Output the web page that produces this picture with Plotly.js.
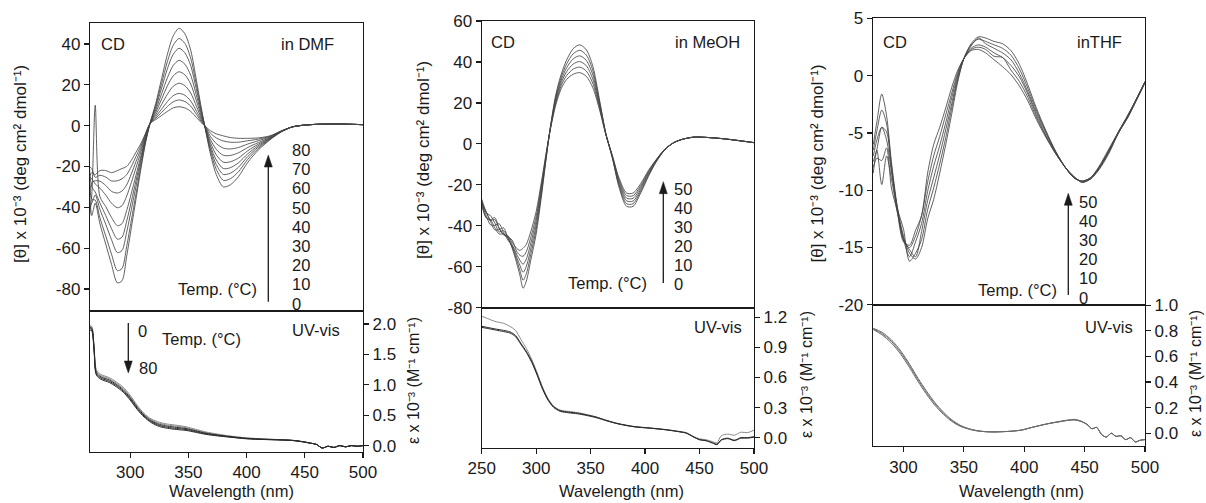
<!DOCTYPE html>
<html><head><meta charset="utf-8">
<script src="https://cdn.plot.ly/plotly-3.0.1.min.js"></script>
<style>html,body{margin:0;padding:0;background:#fff}#chart{width:1206px;height:503px}</style>
</head><body><div id="chart"></div>
<script>
// ===================== DATA =====================
// ---- DMF, CD (0..80 °C) ----
const dmfCdWavelength = [265,267,270,274,279,284,289,293,297,301,305,309,313,317,322,327,332,337,342,347,352,357,361,364,369,374,380,386,393,401,410,420,430,440,455,475,500];
const dmfCdT0  = [-30,-44,-38,-48,-58,-68,-77,-76,-64,-50,-36,-22,-9,1, 11,23,35,44,47.7,45,37,22,9,0, -14,-24,-30,-29,-25,-18,-12,-7,-3,-0.5,0.5,0.8,0.5];
const dmfCdT10 = [28,-36,-36.5,-45.1,-54,-63,-71,-70,-59.2,-46.4,-33.5,-20.6,-8.5,1, 10,20.7,31.4,39.4,42.7,40.3,33.1,19.7,8,0, -12.5,-21.4,-26.8,-26,-22.6,-16.5,-11.2,-6.7,-2.9,-0.5,0.5,0.8,0.5];
const dmfCdT20 = [-40,-38,-34,-41,-48.3,-55.9,-62.2,-61.2,-52.2,-41.1,-29.8,-18.5,-7.7,1, 9,18.4,27.9,35,37.9,35.7,29.4,17.4,7.1,0, -11.2,-19.1,-23.9,-23.3,-20.4,-15.1,-10.5,-6.5,-2.9,-0.5,0.5,0.8,0.5];
const dmfCdT30 = [-20,-30,-32.5,-37.9,-44,-50.5,-55.6,-54.6,-46.8,-37.1,-27,-16.9,-7,1, 7.7,15.6,23.5,29.5,32,30.1,24.7,14.6,5.9,0, -9.9,-16.8,-21,-20.6,-18.2,-13.8,-9.8,-6.3,-2.8,-0.5,0.5,0.8,0.5];
const dmfCdT40 = [-45,-34,10,-34.7,-39.6,-45,-49,-48,-41.6,-33.2,-24.3,-15.4,-6.5,1, 6.6,13,19.5,24.4,26.4,24.9,20.4,12,4.8,0, -8.4,-14.3,-17.9,-17.7,-15.9,-12.3,-9.1,-6,-2.8,-0.5,0.5,0.8,0.5];
const dmfCdT50 = [-25,-26,-28.6,-30.6,-34,-38,-40.2,-39.2,-34.5,-27.9,-20.6,-13.3,-5.7,1, 5.4,10.4,15.4,19.3,20.8,19.6,16,9.4,3.8,0, -6.9,-11.6,-14.5,-14.6,-13.3,-10.7,-8.3,-5.8,-2.7,-0.5,0.5,0.8,0.5];
const dmfCdT60 = [-35,-28,-27,-27.2,-29.3,-32.2,-33,-32,-29,-23.6,-17.6,-11.6,-5,1, 4.4,8.1,11.8,14.7,15.8,14.9,12.1,7.1,2.8,0, -5.3,-8.8,-11,-11.4,-10.7,-9,-7.4,-5.5,-2.6,-0.5,0.5,0.8,0.5];
const dmfCdT70 = [-20,-21,-25.3,-24.3,-25.2,-27.1,-27,-26,-24,-20,-15.1,-10.2,-4.5,1, 3.7,6.5,9.4,11.7,12.6,11.8,9.6,5.5,2.1,0, -3.7,-6,-7.5,-8.1,-8.1,-7.4,-6.6,-5.2,-2.6,-0.5,0.5,0.8,0.5];
const dmfCdT80 = [-25,-23,-24,-22,-22,-23,-22,-21,-20,-17,-13,-9,-4,1, 3,5,7,8.7,9.3,8.7,7,4,1.5,0, -2.5,-4,-5,-5.8,-6.2,-6.2,-6,-5,-2.5,-0.5,0.5,0.8,0.5];

// ---- DMF, UV-vis ----
const dmfUvWavelength = [265,267,269,271,275,282,288,294,300,306,312,318,325,332,340,348,356,365,375,385,400,415,430,440,448,455,460,465,470,475,480,485,490,495,500];
const dmfUvT0  = [1.98,1.96,1.65,1.25,1.17,1.12,1.05,0.96,0.83,0.665,0.53,0.44,0.385,0.355,0.335,0.31,0.27,0.225,0.19,0.16,0.128,0.11,0.098,0.087,0.067,0.04,0.02,-0.04,-0.01,-0.03,0.0,-0.02,0.0,-0.01,0.0];
const dmfUvT20 = [1.97,1.95,1.62,1.22,1.15,1.10,1.03,0.94,0.81,0.648,0.515,0.425,0.368,0.338,0.318,0.295,0.258,0.215,0.182,0.155,0.124,0.108,0.096,0.086,0.066,0.04,0.02,-0.04,-0.01,-0.03,0.0,-0.02,0.0,-0.01,0.0];
const dmfUvT40 = [1.95,1.93,1.60,1.20,1.13,1.08,1.01,0.92,0.79,0.63,0.50,0.41,0.35,0.32,0.30,0.28,0.245,0.205,0.175,0.15,0.12,0.105,0.095,0.085,0.065,0.04,0.02,-0.04,-0.01,-0.03,0.0,-0.02,0.0,-0.01,0.0];
const dmfUvT60 = [1.93,1.91,1.58,1.18,1.11,1.06,0.99,0.90,0.77,0.612,0.485,0.395,0.332,0.302,0.282,0.265,0.232,0.195,0.168,0.145,0.116,0.102,0.094,0.084,0.064,0.04,0.02,-0.04,-0.01,-0.03,0.0,-0.02,0.0,-0.01,0.0];
const dmfUvT80 = [1.90,1.89,1.55,1.16,1.09,1.04,0.97,0.88,0.75,0.595,0.47,0.38,0.315,0.285,0.265,0.25,0.22,0.185,0.16,0.14,0.112,0.10,0.092,0.083,0.063,0.04,0.02,-0.04,-0.01,-0.03,0.0,-0.02,0.0,-0.01,0.0];

// ---- MeOH, CD (0..50 °C) ----
const meohCdWavelength = [250,254,258,262,266,270,274,278,282,285,288,291,295,300,305,309,313,318,323,328,334,340,346,352,358,364,370,376,383,389,396,403,410,418,426,434,445,458,472,486,500];
const meohCdT0  = [-30,-36,-37,-41,-44,-44,-46,-51,-58,-64,-70.5,-67,-57,-44,-25,-8,8,24,34,41,46.5,48.4,46,38,22,5,-7,-21,-30.5,-30.5,-24,-16,-9,-3,0.5,2.2,3.3,3.1,2.5,1.6,0.6];
const meohCdT10 = [-29.4,-33,-37.8,-42,-41.8,-41,-45.8,-50.4,-56.6,-61.6,-66.6,-63.4,-54.2,-41.8,-23.6,-7.4,7.8,23,32.6,39.1,44,45.7,43.4,35.9,21,4.9,-6.8,-20.2,-29.2,-29.2,-23.1,-15.4,-8.8,-2.9,0.5,2.2,3.3,3.1,2.5,1.6,0.6];
const meohCdT20 = [-28.8,-34.8,-39.5,-39.8,-39,-43.2,-47,-49.8,-55.2,-59.2,-62.7,-59.8,-51.4,-39.6,-22.2,-6.8,7.6,22,31.2,37.2,41.5,43,40.8,33.8,20,4.8,-6.5,-19.3,-27.8,-27.9,-22.2,-14.8,-8.5,-2.8,0.5,2.2,3.3,3.1,2.5,1.6,0.6];
const meohCdT30 = [-28.2,-36,-37.4,-37,-41.4,-44.5,-45.4,-49.2,-53.8,-56.8,-58.8,-56.2,-48.6,-37.4,-20.8,-6.2,7.4,21,29.8,35.3,39,40.2,38.2,31.7,19,4.7,-6.2,-18.3,-26.5,-26.6,-21.2,-14.2,-8.3,-2.8,0.5,2.2,3.3,3.1,2.5,1.6,0.6];
const meohCdT40 = [-27.6,-33.6,-35,-38.6,-43,-42.4,-45.2,-47,-52.4,-54.4,-54.9,-52.6,-45.8,-35.2,-19.4,-5.6,7.2,20,28.4,33.4,36.5,37.5,35.6,29.6,18,4.6,-6,-17.4,-25.2,-25.3,-20.3,-13.6,-8,-2.7,0.5,2.2,3.3,3.1,2.5,1.6,0.6];
const meohCdT50 = [-27,-33,-37,-36,-41,-44,-45,-48,-51,-52,-51,-49,-43,-33,-18,-5,7,19,27,31.5,34,34.8,33,27.5,17,4.5,-5.7,-16.5,-24,-24,-19.4,-13,-7.8,-2.6,0.5,2.2,3.3,3.1,2.5,1.6,0.6];

// ---- MeOH, UV-vis ----
const meohUvWavelength = [250,255,262,270,276,281,286,291,296,301,306,311,316,322,330,338,346,355,365,375,390,405,420,430,438,444,450,456,462,466,470,476,482,488,494,500];
const meohUvA = [1.11,1.10,1.085,1.07,1.055,1.02,0.94,0.86,0.76,0.63,0.49,0.38,0.31,0.27,0.255,0.245,0.228,0.205,0.17,0.14,0.11,0.095,0.078,0.062,0.045,0.01,-0.02,-0.03,-0.05,-0.065,-0.02,-0.005,-0.025,0.0,0.0,0.01];
const meohUvB = [1.10,1.09,1.075,1.058,1.043,1.008,0.93,0.85,0.75,0.62,0.48,0.372,0.302,0.263,0.248,0.238,0.222,0.20,0.167,0.138,0.108,0.094,0.077,0.061,0.045,0.01,-0.02,-0.03,-0.055,-0.07,-0.025,-0.01,-0.03,-0.005,-0.005,0.005];
const meohUvC = [1.21,1.19,1.16,1.14,1.11,1.07,0.98,0.89,0.78,0.645,0.50,0.39,0.315,0.275,0.262,0.25,0.232,0.208,0.172,0.142,0.112,0.097,0.08,0.065,0.05,0.015,-0.012,-0.02,-0.04,-0.05,0.02,0.035,0.025,0.055,0.05,0.075];

// ---- THF, CD (0..50 °C) ----
const thfCdWavelength = [275,278,282,286,290,295,300,305,310,315,320,325,330,335,340,345,350,356,362,368,375,382,389,396,403,410,418,426,434,441,448,455,462,470,478,486,493,500];
const thfCdT0  = [-6,-4,-1.6,-3.5,-7.5,-11.5,-14,-15.5,-16,-15,-12.5,-10.8,-8.5,-6,-3.3,-0.5,1.5,2.8,3.4,3.3,3.0,2.8,2.2,1.0,-0.8,-2.8,-4.8,-6.6,-8.0,-8.9,-9.2,-8.9,-7.9,-6.4,-4.9,-3.4,-2.0,-0.5];
const thfCdT10 = [-6.5,-4.8,-3.0,-4.2,-7.8,-11.6,-13.4,-16.2,-15.5,-14.3,-11.7,-9.8,-7.7,-5.4,-2.8,-0.3,1.5,2.7,3.2,3.0,2.7,2.4,1.8,0.6,-1.1,-3.0,-4.9,-6.6,-8.0,-8.9,-9.2,-8.9,-8.0,-6.5,-4.9,-3.4,-2.0,-0.5];
const thfCdT20 = [-7.0,-5.6,-4.5,-4.9,-8.1,-11.7,-14.2,-15.2,-15.8,-13.6,-10.9,-8.9,-6.9,-4.7,-2.4,-0.1,1.5,2.6,3.3,2.8,2.4,2.0,1.4,0.2,-1.4,-3.2,-5.0,-6.7,-8.0,-8.9,-9.2,-8.9,-8.0,-6.6,-4.9,-3.5,-2.0,-0.5];
const thfCdT30 = [-7.5,-6.4,-4.5,-5.6,-8.4,-11.8,-14.3,-15.8,-14.5,-12.9,-10.1,-7.9,-6.1,-4.1,-1.9,0.1,1.5,2.4,2.7,2.5,2.0,1.6,0.9,-0.1,-1.6,-3.4,-5.2,-6.7,-8.0,-8.8,-9.3,-9.0,-8.1,-6.6,-5.0,-3.5,-2.1,-0.6];
const thfCdT40 = [-8.0,-7.2,-7.4,-6.3,-9.8,-11.9,-14.4,-15.0,-14.0,-12.2,-9.3,-7.0,-5.3,-3.4,-1.5,0.3,1.5,2.3,2.5,2.3,1.7,1.6,0.5,-0.5,-1.9,-3.6,-5.3,-6.8,-8.0,-8.8,-9.3,-9.0,-8.1,-6.7,-5.0,-3.6,-2.1,-0.6];
const thfCdT50 = [-8.5,-6.5,-9.5,-7,-9,-12,-14.5,-14.8,-13.5,-12.2,-8.5,-6,-4.5,-2.8,-1,0.5,1.5,2.2,2.3,2.0,1.4,0.8,0.1,-0.9,-2.2,-3.8,-5.4,-6.8,-8.0,-8.8,-9.3,-9.0,-8.2,-6.8,-5.0,-3.6,-2.1,-0.6];

// ---- THF, UV-vis ----
const thfUvWavelength = [275,282,290,298,305,312,319,326,333,340,347,354,361,368,375,382,390,398,405,412,420,428,436,442,447,452,456,460,464,468,472,476,480,484,488,492,496,500];
const thfUvA = [0.82,0.79,0.73,0.64,0.54,0.43,0.33,0.24,0.165,0.105,0.062,0.036,0.02,0.012,0.01,0.012,0.016,0.025,0.042,0.058,0.075,0.09,0.103,0.108,0.095,0.07,0.035,0.045,-0.01,-0.03,0.0,-0.025,-0.02,-0.05,-0.035,-0.068,-0.055,-0.05];
const thfUvB = [0.815,0.78,0.718,0.627,0.527,0.418,0.318,0.23,0.157,0.099,0.058,0.034,0.019,0.012,0.01,0.012,0.016,0.025,0.042,0.058,0.075,0.088,0.10,0.104,0.092,0.068,0.035,0.045,-0.01,-0.03,0.0,-0.025,-0.02,-0.05,-0.035,-0.068,-0.055,-0.05];
const thfUvC = [0.81,0.77,0.705,0.613,0.513,0.405,0.305,0.218,0.148,0.092,0.054,0.032,0.018,0.012,0.01,0.012,0.016,0.025,0.042,0.058,0.075,0.088,0.10,0.104,0.092,0.068,0.035,0.045,-0.01,-0.03,0.0,-0.025,-0.02,-0.05,-0.035,-0.068,-0.055,-0.05];

// ---- ticks & labels ----
const dmfCdTicks  = [-80,-60,-40,-20,0,20,40];
const meohCdTicks = [-80,-60,-40,-20,0,20,40,60];
const thfCdTicks  = [-20,-15,-10,-5,0,5];
const dmfUvTicks  = [0,0.5,1,1.5,2];
const meohUvTicks = [0,0.3,0.6,0.9,1.2];
const thfUvTicks  = [0,0.2,0.4,0.6,0.8,1.0];
const dmfWlTicks  = [300,350,400,450,500];
const meohWlTicks = [250,300,350,400,450,500];
const thfWlTicks  = [300,350,400,450,500];
const dmfTemps  = ['80','70','60','50','40','30','20','10','0'];
const meohTemps = ['50','40','30','20','10','0'];
const thfTemps  = ['50','40','30','20','10','0'];

// ===================== DRAWING =====================
const W = 1206, H = 503;
const px = v => v / W;
const py = v => 1 - v / H;
const ink = '#1a1a1a';
const FAM = 'Liberation Sans, Arial, sans-serif';
const tickFont = {family: FAM, size: 17, color: ink};

function ax(extra) {
  return Object.assign({
    showline: true, linecolor: ink, linewidth: 1.2, mirror: true,
    showgrid: false, zeroline: false, ticks: 'outside', ticklen: 5,
    tickwidth: 1.2, tickcolor: ink, tickfont: tickFont, fixedrange: true
  }, extra);
}

const traces = [];
function addCurves(xs, list, xa, ya, color, width) {
  list.forEach(ys => traces.push({
    type: 'scatter', mode: 'lines', x: xs, y: ys, xaxis: xa, yaxis: ya,
    line: {color: color, width: width, shape: 'spline', smoothing: 0.8},
    hoverinfo: 'skip', showlegend: false
  }));
}
addCurves(dmfCdWavelength, [dmfCdT0,dmfCdT10,dmfCdT20,dmfCdT30,dmfCdT40,dmfCdT50,dmfCdT60,dmfCdT70,dmfCdT80], 'x', 'y', '#454545', 0.85);
addCurves(meohCdWavelength, [meohCdT0,meohCdT10,meohCdT20,meohCdT30,meohCdT40,meohCdT50], 'x2', 'y2', '#454545', 0.85);
addCurves(thfCdWavelength, [thfCdT0,thfCdT10,thfCdT20,thfCdT30,thfCdT40,thfCdT50], 'x3', 'y3', '#454545', 0.85);
addCurves(dmfUvWavelength, [dmfUvT0,dmfUvT20], 'x4', 'y4', '#8a8a8a', 1.0);
addCurves(dmfUvWavelength, [dmfUvT40,dmfUvT60,dmfUvT80], 'x4', 'y4', '#2a2a2a', 1.0);
addCurves(meohUvWavelength, [meohUvC], 'x5', 'y5', '#8a8a8a', 1.0);
addCurves(meohUvWavelength, [meohUvA, meohUvB], 'x5', 'y5', '#2a2a2a', 1.0);
addCurves(thfUvWavelength, [thfUvA, thfUvB, thfUvC], 'x6', 'y6', '#6a6a6a', 1.0);

const geo = [
  {x0: 90,    x1: 363,  top: 23,   mid: 311,   bot: 451.7},
  {x0: 481.7, x1: 754,  top: 21,   mid: 307.7, bot: 447.7},
  {x0: 872.7, x1: 1145, top: 18.3, mid: 305,   bot: 446}
];
const cdRanges = [[-90.8, 50.3], [-80.02, 60.02], [-20.02, 5.02]];
const uvRanges = [[-0.1, 2.215], [-0.1, 1.296], [-0.1, 1.002]];
const wlRanges = [[265.5, 500], [250, 500], [274.5, 500]];
const cdTicks = [dmfCdTicks, meohCdTicks, thfCdTicks];
const uvTicks = [dmfUvTicks, meohUvTicks, thfUvTicks];
const wlTicks = [dmfWlTicks, meohWlTicks, thfWlTicks];

const layout = {
  width: W, height: H, margin: {l: 0, r: 0, t: 0, b: 0},
  paper_bgcolor: '#fff', plot_bgcolor: 'rgba(0,0,0,0)',
  font: {family: FAM, color: ink, size: 16},
  annotations: [], shapes: [], showlegend: false
};
geo.forEach((g, i) => {
  const n = i + 1, m = i + 4;
  const sfx = n === 1 ? '' : String(n);
  const xd = [px(g.x0), px(g.x1)];
  layout['xaxis' + sfx] = ax({domain: xd, range: wlRanges[i], anchor: 'y' + sfx, ticks: '', showticklabels: false});
  layout['yaxis' + sfx] = ax({domain: [py(g.mid), py(g.top)], range: cdRanges[i], anchor: 'x' + sfx,
    tickvals: cdTicks[i], ticktext: cdTicks[i].map(String)});
  layout['xaxis' + m] = ax({domain: xd, range: wlRanges[i], anchor: 'y' + m,
    tickvals: wlTicks[i], ticktext: wlTicks[i].map(String)});
  layout['yaxis' + m] = ax({domain: [py(g.bot), py(g.mid)], range: uvRanges[i], anchor: 'x' + m, side: 'right',
    tickvals: uvTicks[i], ticktext: uvTicks[i].map(v => v.toFixed(1))});
});

const A = layout.annotations;
function txt(text, x, y, opts) {
  A.push(Object.assign({text: text, x: px(x), y: py(y), xref: 'paper', yref: 'paper',
    showarrow: false, xanchor: 'center', yanchor: 'middle',
    font: {family: FAM, size: 16.5, color: ink}}, opts || {}));
}
function arrow(x, yTip, yTail) {
  const dir = yTail > yTip ? 1 : -1;
  const headLen = 12, half = 4;
  layout.shapes.push({type: 'line', xref: 'paper', yref: 'paper',
    x0: px(x), x1: px(x), y0: py(yTail), y1: py(yTip + dir * (headLen - 2)),
    line: {color: ink, width: 1.3}});
  layout.shapes.push({type: 'path', xref: 'paper', yref: 'paper',
    path: 'M ' + px(x) + ' ' + py(yTip) + ' L ' + px(x - half) + ' ' + py(yTip + dir * headLen) +
          ' L ' + px(x + half) + ' ' + py(yTip + dir * headLen) + ' Z',
    fillcolor: ink, line: {color: ink, width: 0.5}});
}

// panel titles / labels
txt('CD', 113, 44); txt('in DMF', 307, 44);
txt('CD', 502.5, 42); txt('in MeOH', 707.5, 42);
txt('CD', 895, 42); txt('inTHF', 1099, 42);
txt('UV-vis', 316, 330); txt('UV-vis', 717.5, 327); txt('UV-vis', 1109, 327);

// temperature ladders
dmfTemps.forEach((t, j) => txt(t, 290, 150 + j * 19.2, {xanchor: 'left'}));
meohTemps.forEach((t, j) => txt(t, 671.5, 188.5 + j * 19.1, {xanchor: 'left'}));
thfTemps.forEach((t, j) => txt(t, 1076.5, 201.5 + j * 19.2, {xanchor: 'left'}));
arrow(268.3, 155, 301.7);
arrow(663.3, 181.7, 283);
arrow(1068.3, 193.3, 295);
txt('Temp. (°C)', 217, 289);
txt('Temp. (°C)', 607.5, 283);
txt('Temp. (°C)', 1017.5, 290);
// UV temperature arrow (DMF)
arrow(128.3, 373, 323);
txt('0', 142.5, 330.5);
txt('80', 147.5, 368);
txt('Temp. (°C)', 201, 339);

// axis titles (unicode superscripts)
const cdTitle = '[θ] x 10⁻³ (deg cm² dmol⁻¹)';
const uvTitle = 'ε x 10⁻³ (M⁻¹ cm⁻¹)';
const cdTitleFont = {family: FAM, size: 17, color: ink};
const uvTitleFont = {family: FAM, size: 16, color: ink};
txt(cdTitle, 21, 164, {textangle: -90, font: cdTitleFont});
txt(cdTitle, 423, 160, {textangle: -90, font: cdTitleFont});
txt(cdTitle, 817.5, 164, {textangle: -90, font: cdTitleFont});
txt(uvTitle, 413, 381, {textangle: -90, font: uvTitleFont});
txt(uvTitle, 806, 375, {textangle: -90, font: uvTitleFont});
txt(uvTitle, 1195, 374, {textangle: -90, font: uvTitleFont});
const wlFont = {family: FAM, size: 16.5, color: ink};
txt('Wavelength (nm)', 231, 491, {font: wlFont});
txt('Wavelength (nm)', 621.7, 491, {font: wlFont});
txt('Wavelength (nm)', 1021.7, 491, {font: wlFont});

Plotly.newPlot('chart', traces, layout, {displayModeBar: false, staticPlot: true});
</script>
</body></html>
